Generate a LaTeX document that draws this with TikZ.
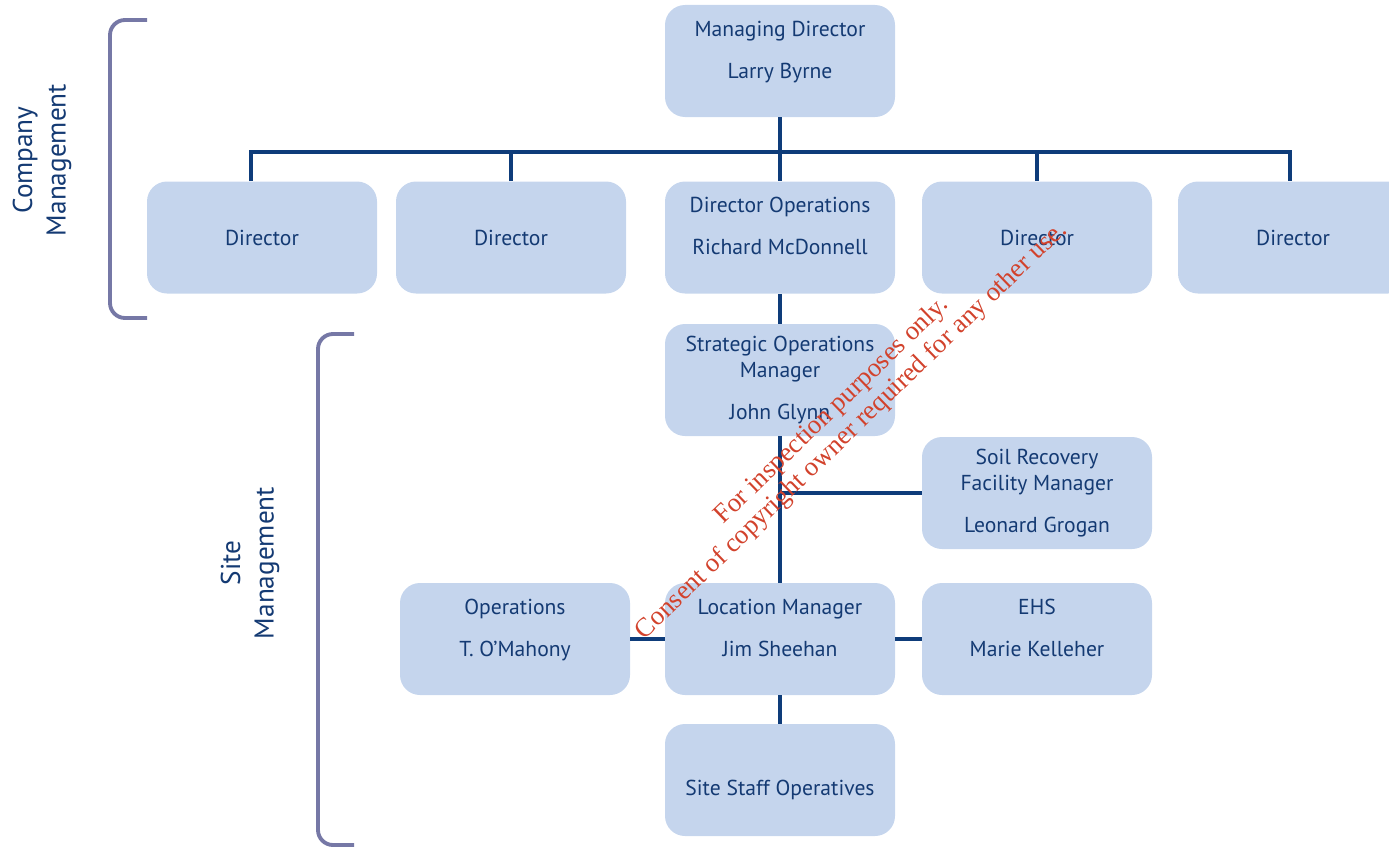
\documentclass[tikz,border=0pt]{standalone}
\usepackage{fontspec}
\setmainfont{PT Sans}
\newfontfamily\wmfont{Liberation Serif}
\usetikzlibrary{positioning}
\definecolor{boxblue}{RGB}{197,213,237}
\definecolor{navy}{RGB}{20,58,115}
\definecolor{linenavy}{RGB}{14,60,122}
\definecolor{bracketgrey}{RGB}{118,120,166}
\definecolor{wmred}{RGB}{210,66,44}
\newcommand{\lift}{\rule[-13pt]{0pt}{0pt}}

\begin{document}
\begin{tikzpicture}[-,
        unit/.style={rectangle, rounded corners=0.4cm, fill=boxblue, text=navy, align=center,
                     minimum width=4.6cm, minimum height=2.24cm, font=\fontsize{12.3}{14.8}\selectfont},
        link/.style={draw=linenavy, line width=2.2pt},
        bracket/.style={draw=bracketgrey, line width=2.2pt, rounded corners=0.3cm},
        side/.style={text=navy, align=center, rotate=90, font=\fontsize{15.5}{19}\selectfont}]
        \useasboundingbox (0,0) rectangle (27.78,-17);

        % company management
        \node at (15.6,-1.22)  [unit] (md)   {Managing Director\\[9pt]Larry Byrne\lift};
        \node at (5.24,-4.75)  [unit] (dir1) {Director};
        \node at (10.22,-4.75) [unit] (dir2) {Director};
        \node at (15.6,-4.75)  [unit] (dops) {Director Operations\\[9pt]Richard McDonnell\lift};
        \node at (20.74,-4.75) [unit] (dir4) {Director};
        \node at (25.86,-4.75) [unit] (dir5) {Director};
        \coordinate (bus) at (15.6,-3.04);

        % site management
        \node at (15.6,-7.6)   [unit] (som)   {Strategic Operations\\Manager\\[9pt]John Glynn};
        \node at (20.74,-9.86) [unit] (soil)  {Soil Recovery\\Facility Manager\\[9pt]Leonard Grogan};
        \node at (15.6,-12.78) [unit] (loc)   {Location Manager\\[9pt]Jim Sheehan\lift};
        \node at (10.3,-12.78) [unit] (ops)   {Operations\\[9pt]T. O’Mahony\lift};
        \node at (20.74,-12.78)[unit] (ehs)   {EHS\\[9pt]Marie Kelleher\lift};
        \node at (15.6,-15.6)  [unit] (staff) {\rule{0pt}{20pt}Site Staff Operatives};

        \draw[link] (md) -- (dops)
                    ([xshift=-0.22cm]dir1.north) |- (bus) -| ([xshift=-0.06cm]dir5.north)
                    (dir2.north) |- (bus)
                    (dir4.north) |- (bus)
                    (dops) -- (som)
                    (som) -- (loc)
                    (soil.west) -- (soil.west -| som.center)
                    (ops) -- (loc)
                    (loc) -- (ehs)
                    (loc) -- (staff);

        % brackets and their labels
        \draw[bracket] (2.94,-0.4) -- (2.2,-0.4) -- (2.2,-6.36) -- (2.94,-6.36);
        \draw[bracket] (7.08,-6.68) -- (6.36,-6.68) -- (6.36,-16.9) -- (7.08,-16.9);
        \node at (0.84,-3.2) [side] (cmlabel) {Company\\Management};
        \node at (5.0,-11.26) [side] (smlabel) {Site\\Management};

        % watermark
        \node at (16.84,-8.42) [rotate=44, text=wmred, align=center, font=\wmfont\fontsize{15.2}{16}\selectfont] (stamp)
            {For inspection purposes only.\\Consent of copyright owner required for any other use.};
\end{tikzpicture}
\end{document}
